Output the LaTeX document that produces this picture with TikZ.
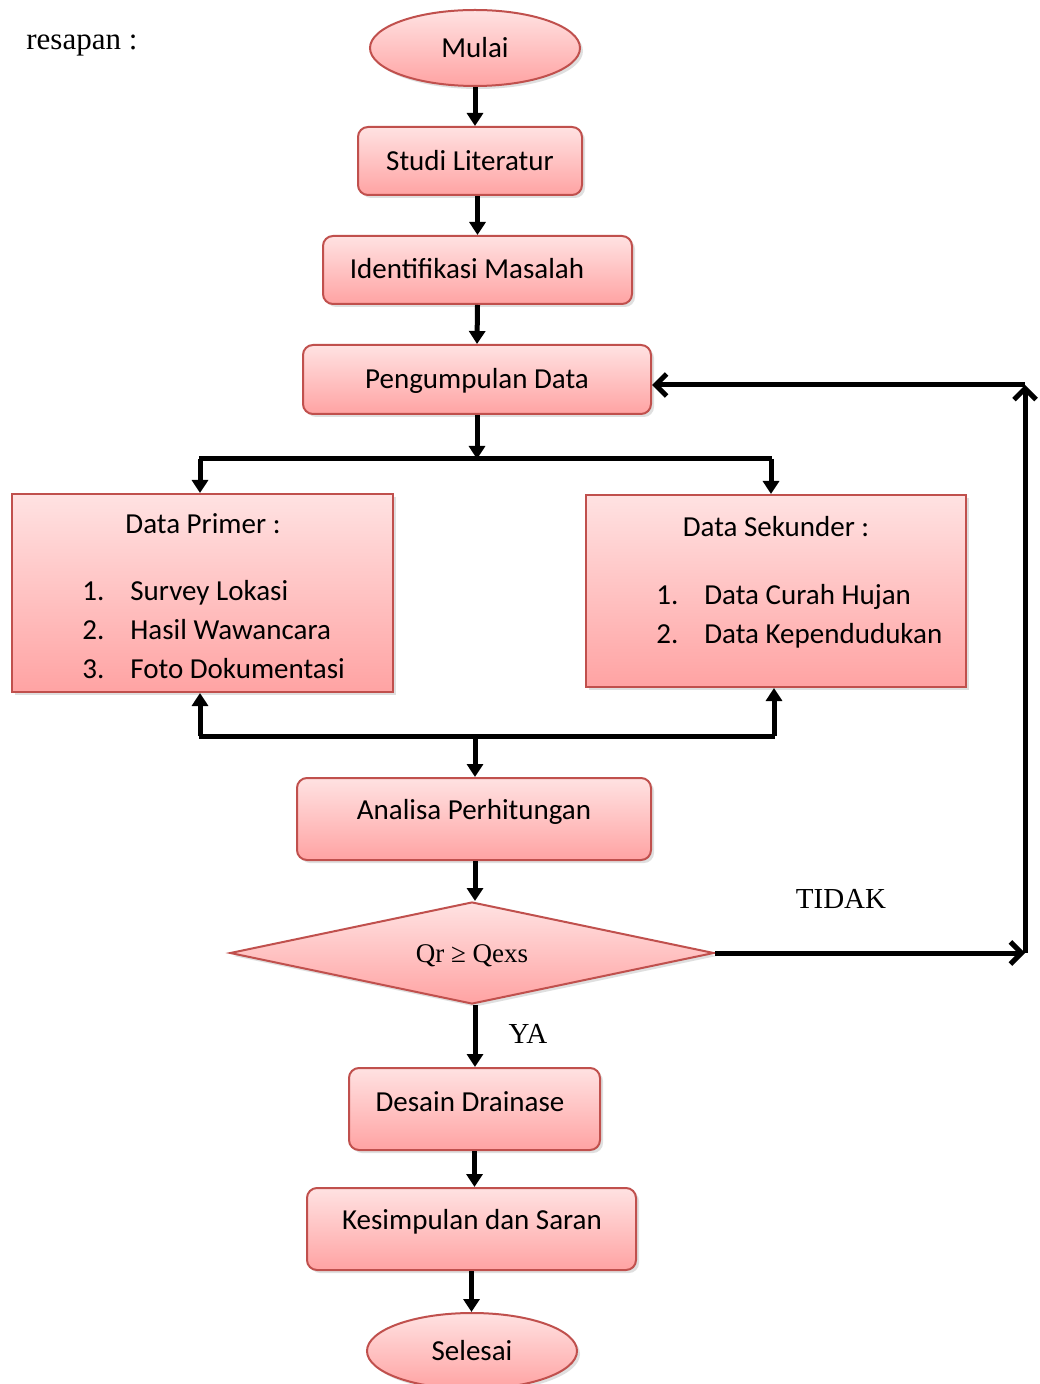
\documentclass[tikz,border=0pt]{standalone}
\usepackage{fontspec}
\setmainfont{Carlito}
\newfontfamily\tnr{Liberation Serif}
\usetikzlibrary{shapes.geometric,arrows.meta,shadows}
\definecolor{boxtop}{HTML}{FFE2E2}
\definecolor{boxbot}{HTML}{FFA3A3}
\definecolor{boxline}{HTML}{C0504D}
\tikzset{
 base/.style={draw=boxline, line width=1pt, top color=boxtop, bottom color=boxbot,
   drop shadow={opacity=0.25,shadow xshift=1.5pt,shadow yshift=-1.5pt},
   font=\fontsize{14.5}{17}\selectfont, inner sep=0pt},
 rbox/.style={base, rectangle, rounded corners=5pt},
 sbox/.style={base, rectangle},
 oval/.style={base, ellipse},
 dia/.style={base, diamond, shape aspect=4.75, font=\tnr\fontsize{13.5}{16}\selectfont},
 txt/.style={font=\fontsize{14.5}{17}\selectfont, inner sep=0pt},
 lab/.style={font=\tnr\fontsize{14.5}{17}\selectfont, inner sep=0pt},
 conn/.style={line width=2.5pt},
 arr/.style={conn, -{Triangle[width=8pt,length=6.5pt]}},
 barb/.style={conn, -{Straight Barb[width=11pt,length=5.5pt]}},
}
\begin{document}
\begin{tikzpicture}[x=0.5pt,y=-0.5pt]
\useasboundingbox (0,0) rectangle (1039,1384);
\fill[white] (0,0) rectangle (1039,1384);

\node[lab, anchor=base west, font=\tnr\fontsize{15.5}{18}\selectfont] (resapan) at (26,50) {resapan :};

\node[oval, minimum width=105pt, minimum height=38pt] (mulai) at (475,48) {Mulai};
\node[rbox, minimum width=112pt, minimum height=34pt] (studi) at (470,161) {Studi Literatur};
\node[rbox, minimum width=154.5pt, minimum height=34pt] (ident) at (477.5,270) {};
\node[txt] (identT) at (467,269) {Identifikasi Masalah};
\node[rbox, minimum width=174pt, minimum height=34.5pt] (peng) at (477,379.5) {};
\node[txt] (pengT) at (477,381) {Pengumpulan Data};

\node[sbox, minimum width=190.5pt, minimum height=99pt] (primer) at (202.5,593) {};
\node[txt, anchor=base] (primerT) at (203,533) {Data Primer :};
\node[txt, anchor=base west] (p1n) at (82,600) {1.};
\node[txt, anchor=base west] (p1) at (130,600) {Survey Lokasi};
\node[txt, anchor=base west] (p2n) at (82,639) {2.};
\node[txt, anchor=base west] (p2) at (130,639) {Hasil Wawancara};
\node[txt, anchor=base west] (p3n) at (82,678) {3.};
\node[txt, anchor=base west] (p3) at (130,678) {Foto Dokumentasi};

\node[sbox, minimum width=190pt, minimum height=96pt] (sekunder) at (776,591) {};
\node[txt, anchor=base] (sekT) at (776,537) {Data Sekunder :};
\node[txt, anchor=base west] (s1n) at (656,604) {1.};
\node[txt, anchor=base west] (s1) at (704,604) {Data Curah Hujan};
\node[txt, anchor=base west] (s2n) at (656,643) {2.};
\node[txt, anchor=base west] (s2) at (704,643) {Data Kependudukan};

\node[rbox, minimum width=177pt, minimum height=41pt] (analisa) at (474,819) {};
\node[txt] (analisaT) at (474,812) {Analisa Perhitungan};
\node[dia, minimum width=242pt, minimum height=51pt] (dec) at (472,953) {};
\node[lab, font=\tnr\fontsize{13.5}{16}\selectfont] (decT) at (472,956) {Qr ≥ Qexs};
\node[rbox, minimum width=125.5pt, minimum height=41pt] (desain) at (474.5,1109) {};
\node[txt] (desainT) at (470,1102) {Desain Drainase};
\node[rbox, minimum width=164.5pt, minimum height=41pt] (kes) at (471.5,1229) {};
\node[txt] (kesT) at (472,1222) {Kesimpulan dan Saran};
\node[oval, minimum width=105pt, minimum height=38pt] (selesai) at (472,1351) {Selesai};

\node[lab] (tidak) at (841,899) {TIDAK};
\node[lab] (ya) at (528,1034) {YA};

% main flow
\draw[arr] (mulai.south) -- (mulai.south |- studi.north);
\draw[arr] (ident.north |- studi.south) -- (ident.north);
\draw[arr] (ident.south) -- (peng.north);

\coordinate (split) at (477,459);
\coordinate (sL) at (200,459);
\coordinate (sR) at (771,459);
\draw[arr] (peng.south) -- (split);
\draw[conn] ([xshift=-0.6pt]sL) -- ([xshift=0.6pt]sR);
\draw[arr] (sL) -- (sL |- primer.north);
\draw[arr] (sR) -- (sR |- sekunder.north);

\coordinate (jL) at (200,736);
\coordinate (jR) at (774,736);
\coordinate (jM) at (475,736);
\draw[conn] ([xshift=-0.6pt]jL) -- ([xshift=0.6pt]jR);
\draw[arr] (jL) -- (jL |- primer.south);
\draw[arr] (jR) -- (jR |- sekunder.south);
\draw[arr] (jM) -- (jM |- analisa.north);

\draw[arr] (jM |- analisa.south) -- (jM |- dec.north);
\draw[arr] (jM |- dec.south) -- (jM |- desain.north);
\draw[arr] (desain.south) -- (desain.south |- kes.north);
\draw[arr] (kes.south) -- (kes.south |- selesai.north);

% loop back
\coordinate (c1) at (1025,953);
\coordinate (c2) at (1025,385);
\draw[barb] (dec.east) -- (c1);
\draw[barb] (c1) -- (c2);
\draw[barb] (c2) -- (c2 -| peng.east);
\end{tikzpicture}
\end{document}
